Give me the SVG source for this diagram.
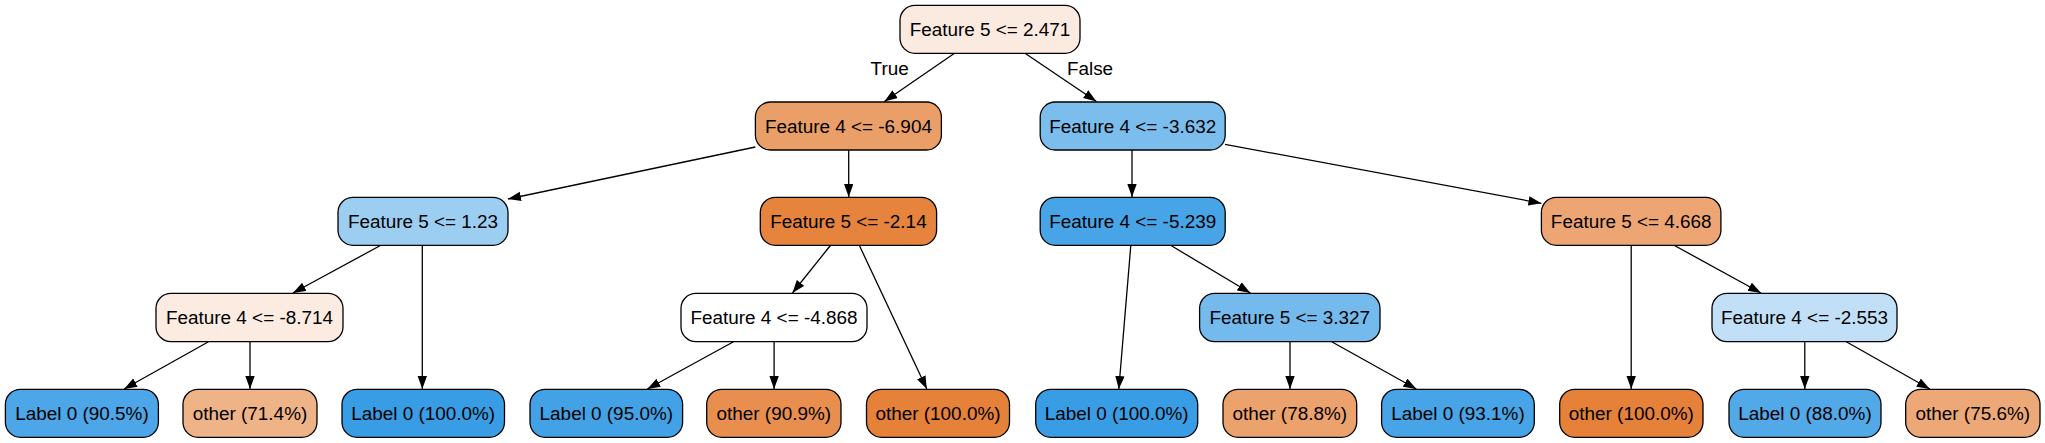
<svg xmlns="http://www.w3.org/2000/svg" width="2045" height="443" viewBox="0 0 2045 443">
<defs>
<marker id="ah" markerUnits="userSpaceOnUse" markerWidth="14" markerHeight="10" refX="13" refY="4.7" orient="auto">
<path d="M0,0 L13,4.7 L0,9.4 z" fill="#000"/>
</marker>
<style>
.n rect{stroke:#000;stroke-width:1.3}
.n text, .lbl{font-family:"Liberation Sans",Arial,Helvetica,sans-serif;font-size:18.9px;fill:#000;text-anchor:middle}
.e line{stroke:#000;stroke-width:1.3;marker-end:url(#ah)}
</style>
</defs>
<rect width="2045" height="443" fill="#fff"/>
<g id="connectors" class="e">
<line x1="954.5" y1="53.3" x2="884.4" y2="101.5"/>
<line x1="1025" y1="53.3" x2="1096.4" y2="101.5"/>
<line x1="755.4" y1="147" x2="508" y2="199"/>
<line x1="848.7" y1="150" x2="848.7" y2="197"/>
<line x1="1132" y1="150" x2="1132" y2="197"/>
<line x1="1225" y1="144.3" x2="1541.4" y2="203.3"/>
<line x1="380.4" y1="245.5" x2="292.9" y2="293"/>
<line x1="422.3" y1="245.5" x2="422.3" y2="389"/>
<line x1="830.4" y1="245.5" x2="792.4" y2="293"/>
<line x1="859.4" y1="245.5" x2="926.8" y2="389"/>
<line x1="1130.8" y1="245.5" x2="1118.8" y2="389"/>
<line x1="1171" y1="245.5" x2="1250.4" y2="293"/>
<line x1="1631.2" y1="245.5" x2="1631.2" y2="389"/>
<line x1="1674.5" y1="245.5" x2="1761" y2="293"/>
<line x1="208.5" y1="341.7" x2="124.1" y2="389"/>
<line x1="250" y1="341.7" x2="250" y2="389"/>
<line x1="733.5" y1="341.7" x2="647.3" y2="389"/>
<line x1="774.1" y1="341.7" x2="774.1" y2="389"/>
<line x1="1290" y1="341.7" x2="1290" y2="389"/>
<line x1="1331.7" y1="341.7" x2="1416.4" y2="389"/>
<line x1="1804.8" y1="341.7" x2="1804.8" y2="389"/>
<line x1="1846.3" y1="341.7" x2="1929.8" y2="389"/>
<text class="lbl" x="889.7" y="75">True</text>
<text class="lbl" x="1090" y="75">False</text>
</g>
<g id="n0" class="n"><rect x="900" y="5.3" width="180" height="48" rx="15" fill="#fbeadf"/><text x="990" y="36">Feature 5 &lt;= 2.471</text></g>
<g id="n1" class="n"><rect x="755.4" y="102" width="186" height="48" rx="15" fill="#eb9f68"/><text x="848.4" y="132.7">Feature 4 &lt;= -6.904</text></g>
<g id="n8" class="n"><rect x="1040.2" y="102" width="185" height="48" rx="15" fill="#7bbeee"/><text x="1132.7" y="132.7">Feature 4 &lt;= -3.632</text></g>
<g id="n2" class="n"><rect x="338" y="197.3" width="170" height="48" rx="15" fill="#9ccef2"/><text x="423" y="228">Feature 5 &lt;= 1.23</text></g>
<g id="n5" class="n"><rect x="760.3" y="197.3" width="176.3" height="48" rx="15" fill="#e6843e"/><text x="848.4" y="228">Feature 5 &lt;= -2.14</text></g>
<g id="n9" class="n"><rect x="1040.2" y="197.3" width="185" height="48" rx="15" fill="#47a4e7"/><text x="1132.7" y="228">Feature 4 &lt;= -5.239</text></g>
<g id="n12" class="n"><rect x="1541.4" y="197.3" width="179.5" height="48" rx="15" fill="#eda673"/><text x="1631.2" y="228">Feature 5 &lt;= 4.668</text></g>
<g id="n3" class="n"><rect x="156" y="293.3" width="187" height="48.4" rx="15" fill="#fbebe0"/><text x="249.5" y="324">Feature 4 &lt;= -8.714</text></g>
<g id="n6" class="n"><rect x="681" y="293.3" width="186" height="48.4" rx="15" fill="#ffffff"/><text x="774" y="324">Feature 4 &lt;= -4.868</text></g>
<g id="n10" class="n"><rect x="1199.6" y="293.3" width="180.4" height="48.4" rx="15" fill="#74baed"/><text x="1289.8" y="324">Feature 5 &lt;= 3.327</text></g>
<g id="n14" class="n"><rect x="1712" y="293.3" width="185" height="48.4" rx="15" fill="#c1e0f7"/><text x="1804.5" y="324">Feature 4 &lt;= -2.553</text></g>
<g id="n4" class="n"><rect x="5.4" y="389.3" width="153" height="48" rx="15" fill="#4ca6e8"/><text x="82" y="420">Label 0 (90.5%)</text></g>
<g id="n4b" class="n"><rect x="183" y="389.3" width="134" height="48" rx="15" fill="#efb388"/><text x="250" y="420">other (71.4%)</text></g>
<g id="n2b" class="n"><rect x="342" y="389.3" width="162.5" height="48" rx="15" fill="#399de5"/><text x="423.2" y="420">Label 0 (100.0%)</text></g>
<g id="n7" class="n"><rect x="530" y="389.3" width="152.6" height="48" rx="15" fill="#43a2e6"/><text x="606.3" y="420">Label 0 (95.0%)</text></g>
<g id="n7b" class="n"><rect x="706.7" y="389.3" width="134.3" height="48" rx="15" fill="#e88f4f"/><text x="773.8" y="420">other (90.9%)</text></g>
<g id="n5b" class="n"><rect x="866.5" y="389.3" width="143" height="48" rx="15" fill="#e58139"/><text x="938" y="420">other (100.0%)</text></g>
<g id="n9b" class="n"><rect x="1035.7" y="389.3" width="162" height="48" rx="15" fill="#399de5"/><text x="1116.7" y="420">Label 0 (100.0%)</text></g>
<g id="n11" class="n"><rect x="1223" y="389.3" width="133.7" height="48" rx="15" fill="#eca26d"/><text x="1289.8" y="420">other (78.8%)</text></g>
<g id="n11b" class="n"><rect x="1381.6" y="389.3" width="152.7" height="48" rx="15" fill="#47a4e7"/><text x="1458" y="420">Label 0 (93.1%)</text></g>
<g id="n13" class="n"><rect x="1559.7" y="389.3" width="143.3" height="48" rx="15" fill="#e58139"/><text x="1631.3" y="420">other (100.0%)</text></g>
<g id="n15" class="n"><rect x="1729" y="389.3" width="152" height="48" rx="15" fill="#52a9e8"/><text x="1805" y="420">Label 0 (88.0%)</text></g>
<g id="n16" class="n"><rect x="1905.7" y="389.3" width="134.3" height="48" rx="15" fill="#eda877"/><text x="1972.8" y="420">other (75.6%)</text></g>
</svg>
